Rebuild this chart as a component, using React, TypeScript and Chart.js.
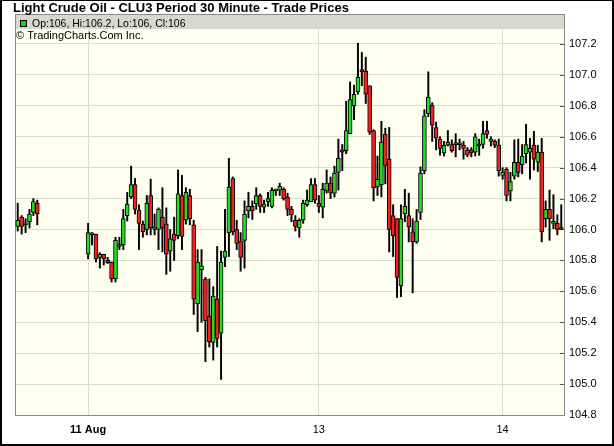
import { useEffect, useRef } from "react";
import { Chart, registerables } from "chart.js";

Chart.register(...registerables);

const FONT = "'Liberation Sans', Arial, Helvetica, sans-serif";
const GREEN = "#22dd22";
const RED = "#ee2222";
const GRID = "#dcdcd0";

const titleText = "Light Crude Oil - CLU3 Period 30 Minute - Trade Prices";
const legendText = "Op:106, Hi:106.2, Lo:106, Cl:106";
const creditText = "\u00A9 TradingCharts.Com Inc.";

// sessions: Friday tail, then continuous trading from Sunday evening
const sessionStartSlots = [0, 18];
const sessionSizes = [6, 122];

const xTickSlots = [18, 77, 124];
const xTickLabels = ["11 Aug", "13", "14"];
const yTickValues = [104.8, 105.0, 105.2, 105.4, 105.6, 105.8, 106.0, 106.2, 106.4, 106.6, 106.8, 107.0, 107.2];

const opens = [
  106.02, 106.08, 106.03, 106.05, 106.11, 106.17,
  105.84, 105.965, 105.97, 105.82, 105.84, 105.80, 105.79, 105.68, 105.89, 105.90,
  106.09, 106.21, 106.29, 106.125, 106.035, 106.00, 106.22, 106.00, 106.00, 106.08,
  106.035, 105.86, 105.97, 105.96, 106.22, 106.06, 106.22, 106.03, 105.52, 105.74,
  105.68, 105.44, 105.27, 105.55, 105.33, 105.82, 105.98, 106.33, 106.00, 105.925,
  105.93, 106.12, 106.15, 106.165, 106.22, 106.145, 106.18, 106.15, 106.25, 106.255,
  106.26, 106.21, 106.13, 106.06, 106.01, 106.06, 106.16, 106.18, 106.29, 106.17,
  106.145, 106.25, 106.30, 106.235, 106.37, 106.515, 106.51, 106.62, 106.80, 106.89,
  107.035, 107.025, 106.93, 106.64, 106.275, 106.29, 106.615, 106.455, 106.09, 106.07,
  105.635, 106.10, 106.09, 105.985, 105.92, 106.11, 106.38, 106.75, 106.805, 106.66,
  106.585, 106.495, 106.545, 106.55, 106.548, 106.548, 106.545, 106.515, 106.515, 106.50,
  106.54, 106.55, 106.64, 106.57, 106.57, 106.545, 106.35, 106.39, 106.25, 106.345,
  106.435, 106.42, 106.49, 106.50, 106.545, 106.435, 106.50, 106.07, 106.13, 106.04,
  106.04, 106.00,
];

const highs = [
  106.17, 106.09, 106.07, 106.13, 106.20, 106.19,
  106.04, 105.98, 105.97, 105.85, 105.84, 105.82, 105.79, 105.95, 105.95, 106.13,
  106.24, 106.41, 106.33, 106.16, 106.055, 106.22, 106.325, 106.10, 106.14, 106.27,
  106.14, 106.00, 106.08, 106.385, 106.35, 106.27, 106.26, 106.06, 105.87, 105.87,
  105.69, 105.68, 105.63, 105.89, 105.86, 106.13, 106.46, 106.34, 106.06, 105.98,
  106.185, 106.24, 106.185, 106.27, 106.23, 106.19, 106.24, 106.27, 106.26, 106.30,
  106.27, 106.235, 106.15, 106.09, 106.07, 106.19, 106.255, 106.33, 106.33, 106.22,
  106.30, 106.385, 106.34, 106.41, 106.585, 106.55, 106.83, 106.955, 106.935, 107.205,
  107.145, 107.115, 106.93, 106.645, 106.475, 106.70, 106.655, 106.66, 106.16, 106.07,
  106.16, 106.26, 106.235, 106.07, 106.13, 106.405, 106.775, 107.02, 106.82, 106.695,
  106.60, 106.57, 106.64, 106.58, 106.62, 106.585, 106.57, 106.53, 106.53, 106.62,
  106.585, 106.70, 106.70, 106.60, 106.58, 106.585, 106.40, 106.40, 106.37, 106.58,
  106.585, 106.55, 106.68, 106.59, 106.635, 106.545, 106.59, 106.185, 106.255, 106.225,
  106.095, 106.16,
];

const lows = [
  105.99, 105.97, 105.98, 106.01, 106.09, 106.03,
  105.81, 105.90, 105.79, 105.75, 105.77, 105.78, 105.66, 105.66, 105.87, 105.87,
  106.055, 106.20, 106.10, 105.87, 105.95, 105.965, 105.965, 105.965, 105.87, 105.855,
  105.71, 105.73, 105.80, 105.94, 105.87, 106.035, 106.03, 105.45, 105.34, 105.40,
  105.145, 105.24, 105.155, 105.24, 105.03, 105.76, 105.825, 105.965, 105.87, 105.73,
  105.75, 106.075, 106.065, 106.13, 106.11, 106.11, 106.15, 106.14, 106.22, 106.22,
  106.19, 106.09, 106.05, 105.99, 105.95, 106.04, 106.15, 106.18, 106.17, 106.11,
  106.075, 106.235, 106.20, 106.21, 106.255, 106.38, 106.49, 106.62, 106.71, 106.875,
  106.93, 106.815, 106.615, 106.185, 106.22, 106.21, 106.295, 105.855, 105.825, 105.56,
  105.565, 106.05, 105.92, 105.59, 105.91, 106.065, 106.36, 106.73, 106.57, 106.515,
  106.48, 106.475, 106.54, 106.50, 106.47, 106.515, 106.455, 106.47, 106.47, 106.475,
  106.48, 106.525, 106.59, 106.54, 106.53, 106.345, 106.325, 106.185, 106.185, 106.325,
  106.34, 106.36, 106.43, 106.325, 106.385, 106.375, 105.92, 106.015, 105.93, 106.005,
  105.965, 106.00,
];

const closes = [
  106.06, 106.02, 106.04, 106.10, 106.18, 106.10,
  105.98, 105.97, 105.81, 105.84, 105.81, 105.785, 105.68, 105.93, 105.90, 106.07,
  106.165, 106.29, 106.13, 106.04, 105.985, 106.17, 106.01, 106.015, 106.13, 106.01,
  105.84, 105.94, 105.93, 106.23, 105.955, 106.24, 106.07, 105.55, 105.79, 105.765,
  105.41, 105.275, 105.57, 105.295, 105.79, 105.86, 106.275, 105.985, 105.91, 105.82,
  106.10, 106.15, 106.12, 106.22, 106.15, 106.165, 106.20, 106.255, 106.26, 106.28,
  106.20, 106.13, 106.095, 106.02, 106.06, 106.17, 106.19, 106.29, 106.19, 106.15,
  106.26, 106.30, 106.235, 106.365, 106.46, 106.50, 106.64, 106.84, 106.875, 106.985,
  107.02, 106.875, 106.63, 106.27, 106.325, 106.565, 106.415, 106.00, 105.96, 105.69,
  106.07, 106.15, 106.015, 105.92, 106.055, 106.365, 106.735, 106.855, 106.675, 106.59,
  106.525, 106.545, 106.565, 106.51, 106.552, 106.552, 106.525, 106.48, 106.495, 106.60,
  106.55, 106.62, 106.615, 106.585, 106.545, 106.38, 106.37, 106.22, 106.31, 106.435,
  106.37, 106.475, 106.55, 106.525, 106.455, 106.50, 105.985, 106.13, 106.07, 106.05,
  106.00, 106.00,
];

export default function App() {
  const ref = useRef<HTMLCanvasElement>(null);

  useEffect(() => {
    document.body.style.margin = "0";
    const canvas = ref.current;
    if (!canvas) return;

    const slots: number[] = [];
    sessionStartSlots.forEach((start, k) => {
      for (let i = 0; i < sessionSizes[k]; i++) slots.push(start + i);
    });
    const up = closes.map((c, i) => c >= opens[i]);

    const decor = {
      id: "decor",
      beforeDraw(chart: any) {
        const { ctx, chartArea: a, width, height } = chart;
        ctx.save();
        ctx.fillStyle = "#ffffff";
        ctx.fillRect(0, 0, width, height);
        ctx.fillStyle = "#ffffef";
        ctx.fillRect(a.left, a.top, a.right - a.left, a.bottom - a.top);
        ctx.fillStyle = "#d8d8d0";
        ctx.fillRect(a.left, a.top, a.right - a.left, 15);
        ctx.restore();
      },
      beforeDatasetsDraw(chart: any) {
        const { ctx, chartArea: a, scales } = chart;
        ctx.save();
        ctx.lineWidth = 1;
        ctx.strokeStyle = "#555555";
        yTickValues.forEach((v) => {
          const y = Math.round(scales.y.getPixelForValue(v)) + 0.5;
          ctx.beginPath();
          ctx.moveTo(a.right - 4, y);
          ctx.lineTo(a.right, y);
          ctx.stroke();
        });
        ctx.strokeStyle = "#888888";
        ctx.strokeRect(a.left + 0.5, a.top + 0.5, a.right - a.left, a.bottom - a.top);

        // header texts
        ctx.fillStyle = "#000";
        ctx.font = `bold 13px ${FONT}`;
        ctx.textBaseline = "alphabetic";
        ctx.textAlign = "left";
        ctx.fillText(titleText, 13, 12);

        ctx.fillStyle = "#00e000";
        ctx.fillRect(20, 20, 7, 7);
        ctx.strokeStyle = "#000";
        ctx.strokeRect(20.5, 20.5, 6, 6);
        ctx.fillStyle = "#000";
        ctx.font = `10.5px ${FONT}`;
        ctx.fillText(legendText, 32, 27);
        ctx.font = `11px ${FONT}`;
        ctx.fillText(creditText, 16, 39);
        ctx.restore();
      },
      afterDraw(chart: any) {
        const { ctx, width, height } = chart;
        ctx.save();
        ctx.fillStyle = "#000";
        ctx.fillRect(0, 0, 2, height);
        ctx.fillRect(0, 0, width, 1);
        ctx.fillRect(width - 2, 0, 2, height);
        ctx.fillRect(0, height - 2, width, 2);
        ctx.restore();
      },
    };

    const chart = new Chart(canvas, {
      type: "bar",
      data: {
        datasets: [
          {
            label: "body",
            data: slots.map((s, i) => ({ x: s, y: [opens[i], closes[i]] })) as any,
            backgroundColor: up.map((u) => (u ? GREEN : RED)),
            borderColor: "#000",
            borderWidth: 1,
            borderSkipped: false,
            barThickness: 4,
            minBarLength: 2,
            grouped: false,
            order: 0,
          } as any,
          {
            label: "wick",
            data: slots.map((s, i) => ({ x: s, y: [lows[i], highs[i]] })) as any,
            backgroundColor: "#000",
            borderWidth: 0,
            barThickness: 1.3,
            grouped: false,
            order: 1,
          } as any,
        ],
      },
      options: {
        animation: false,
        responsive: false,
        devicePixelRatio: 1,
        events: [],
        layout: { padding: { left: 15, top: 14, right: 0, bottom: 0 } },
        plugins: {
          legend: { display: false },
          tooltip: { enabled: false },
          title: { display: false },
        },
        scales: {
          x: {
            type: "linear",
            offset: false,
            min: -0.7,
            max: 139.7,
            afterBuildTicks: (s: any) => {
              s.ticks = xTickSlots.map((v) => ({ value: v }));
            },
            afterFit: (s: any) => {
              s.height = 31;
            },
            grid: { color: GRID, drawTicks: false, lineWidth: 1, offset: false },
            border: { display: false },
            ticks: {
              autoSkip: false,
              maxRotation: 0,
              padding: 8,
              color: "#000",
              font: (c: any) => ({ family: FONT, size: 11, weight: c.index === 0 ? "bold" : "normal" }),
              callback: (v: any) => {
                const k = xTickSlots.indexOf(Number(v));
                return k >= 0 ? xTickLabels[k] : "";
              },
            },
          },
          y: {
            position: "right",
            min: 104.8,
            max: 107.394,
            afterBuildTicks: (s: any) => {
              s.ticks = yTickValues.map((v) => ({ value: v }));
            },
            afterFit: (s: any) => {
              s.width = 50;
            },
            grid: { color: GRID, drawTicks: false, lineWidth: 1 },
            border: { display: false },
            ticks: {
              padding: 5,
              color: "#000",
              font: { family: FONT, size: 11 },
              callback: (v: any) => Number(v).toFixed(1),
            },
          },
        },
      } as any,
      plugins: [decor],
    });

    return () => chart.destroy();
  }, []);

  return (
    <div style={{ width: 614, height: 446 }}>
      <canvas ref={ref} width={614} height={446} style={{ display: "block" }} />
    </div>
  );
}
